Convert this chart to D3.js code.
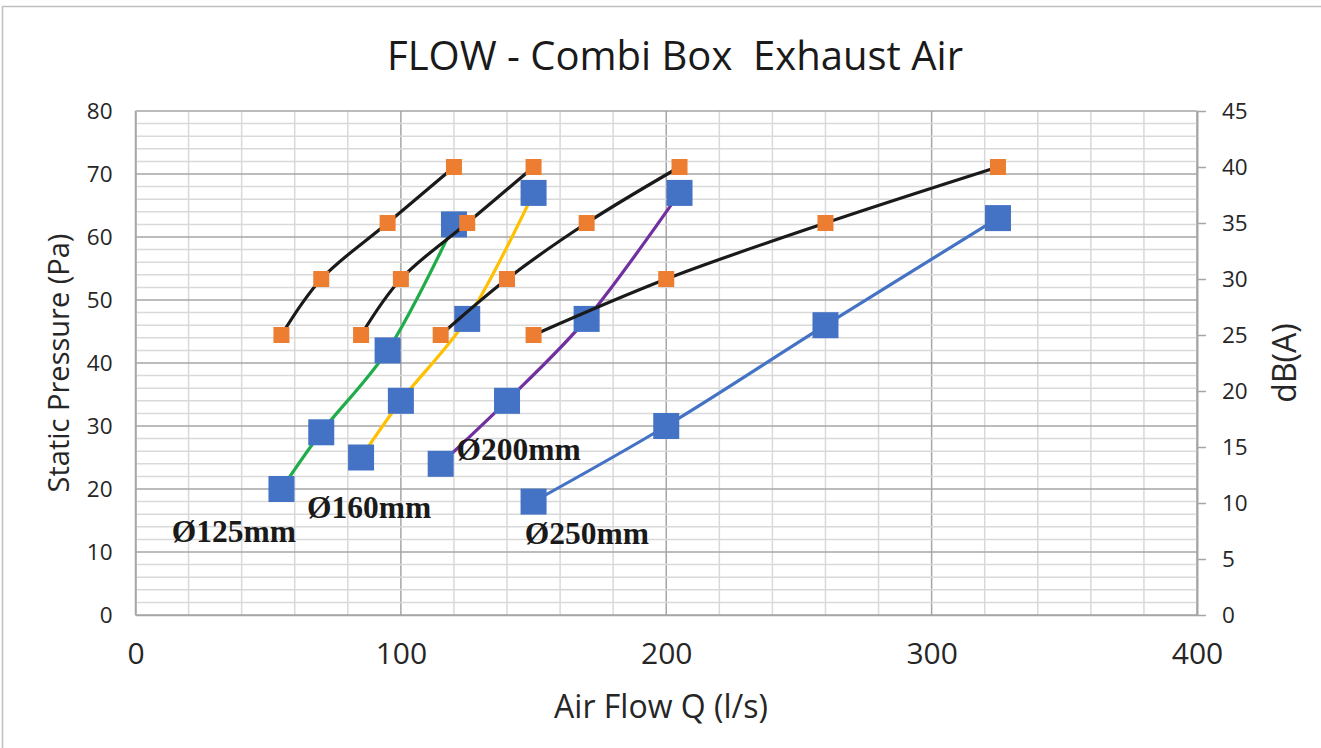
<!DOCTYPE html>
<html>
<head>
<meta charset="utf-8">
<script src="https://cdn.jsdelivr.net/npm/d3@7"></script>
<style>
  html, body { margin: 0; padding: 0; background: #fff; }
  svg { display: block; }
</style>
</head>
<body>
<svg id="chart" width="1321" height="748"></svg>
<script>
// ---------- data ----------
const chartTitle = "FLOW - Combi Box  Exhaust Air";
const xTitle = "Air Flow Q (l/s)";
const yTitle = "Static Pressure (Pa)";
const y2Title = "dB(A)";

const flowTicks = [0, 100, 200, 300, 400];
const pressureTicks = [0, 10, 20, 30, 40, 50, 60, 70, 80];
const dbTicks = [0, 5, 10, 15, 20, 25, 30, 35, 40, 45];

const sizeNames = ["Ø125mm", "Ø160mm", "Ø200mm", "Ø250mm"];
const sizeColors = ["#1fad4b", "#ffc000", "#7030a0", "#4472c4"];

const flow125 = [55, 70, 95, 120];
const flow160 = [85, 100, 125, 150];
const flow200 = [115, 140, 170, 205];
const flow250 = [150, 200, 260, 325];

const pressure125 = [20, 29, 42, 62];
const pressure160 = [25, 34, 47, 67];
const pressure200 = [24, 34, 47, 67];
const pressure250 = [18, 30, 46, 63];

const db125 = [25, 30, 35, 40];
const db160 = [25, 30, 35, 40];
const db200 = [25, 30, 35, 40];
const db250 = [25, 30, 35, 40];

// label anchors in data units (flow, pressure)
const labelFlow = [13.7, 64.6, 121, 146.7];
const labelPressure = [11.6, 15.4, 24.6, 11.3];

// ---------- layout ----------
const svg = d3.select("#chart");
const W = 1321, H = 748;
const plot = { left: 135.5, right: 1197, top: 111, bottom: 615 };

const x = d3.scaleLinear().domain([0, 400]).range([plot.left, plot.right]);
const y = d3.scaleLinear().domain([0, 80]).range([plot.bottom, plot.top]);
const y2 = d3.scaleLinear().domain([0, 45]).range([plot.bottom, plot.top]);

// outer border
svg.append("rect")
  .attr("x", 2.5).attr("y", 6.5)
  .attr("width", W + 10).attr("height", H + 10)
  .attr("fill", "none").attr("stroke", "#bfbfbf").attr("stroke-width", 1.5);

// ---------- gridlines ----------
const grid = svg.append("g");
const minorX = d3.range(0, 401, 20);
const minorY = d3.range(0, 81, 2);

grid.selectAll(".vminor").data(minorX).join("line")
  .attr("x1", d => x(d)).attr("x2", d => x(d))
  .attr("y1", plot.top).attr("y2", plot.bottom)
  .attr("stroke", d => (d % 100 === 0) ? "#a6a6a6" : "#d9d9d9")
  .attr("stroke-width", 1.5);

grid.selectAll(".hminor").data(minorY).join("line")
  .attr("x1", plot.left).attr("x2", plot.right)
  .attr("y1", d => y(d)).attr("y2", d => y(d))
  .attr("stroke", d => (d % 10 === 0) ? "#a6a6a6" : "#d9d9d9")
  .attr("stroke-width", 1.5);

// ---------- axes ----------
const fontSans = "'Open Sans', 'DejaVu Sans', sans-serif";

const xAxis = svg.append("g")
  .attr("transform", `translate(0,${plot.bottom})`)
  .call(d3.axisBottom(x).tickValues(flowTicks).tickSize(0).tickPadding(28));
xAxis.select(".domain").attr("stroke", "#a6a6a6").attr("stroke-width", 1.5);
xAxis.selectAll("text").attr("font-family", fontSans).attr("font-size", 30).attr("fill", "#262626");

const yAxis = svg.append("g")
  .attr("transform", `translate(${plot.left},0)`)
  .call(d3.axisLeft(y).tickValues(pressureTicks).tickSize(0).tickPadding(23));
yAxis.select(".domain").attr("stroke", "#a6a6a6").attr("stroke-width", 1.5);
yAxis.selectAll("text").attr("font-family", fontSans).attr("font-size", 22.5).attr("fill", "#262626");

const y2Axis = svg.append("g")
  .attr("transform", `translate(${plot.right},0)`)
  .call(d3.axisRight(y2).tickValues(dbTicks).tickSize(9).tickSizeOuter(0).tickPadding(16));
y2Axis.select(".domain").attr("stroke", "#a6a6a6").attr("stroke-width", 2);
y2Axis.selectAll(".tick line").attr("stroke", "#a6a6a6").attr("stroke-width", 1.5);
y2Axis.selectAll("text").attr("font-family", fontSans).attr("font-size", 22.5).attr("fill", "#262626");

// ---------- titles ----------
svg.append("text")
  .attr("x", 675).attr("y", 70)
  .attr("text-anchor", "middle")
  .attr("font-family", fontSans).attr("font-size", 40).attr("fill", "#1a1a1a")
  .attr("xml:space", "preserve")
  .text(chartTitle);

svg.append("text")
  .attr("x", 661).attr("y", 718)
  .attr("text-anchor", "middle")
  .attr("font-family", fontSans).attr("font-size", 32).attr("fill", "#262626")
  .text(xTitle);

svg.append("text")
  .attr("transform", `translate(69,363) rotate(-90)`)
  .attr("text-anchor", "middle")
  .attr("font-family", fontSans).attr("font-size", 29).attr("fill", "#262626")
  .text(yTitle);

svg.append("text")
  .attr("transform", `translate(1296,363) rotate(-90)`)
  .attr("text-anchor", "middle")
  .attr("font-family", fontSans).attr("font-size", 32).attr("fill", "#262626")
  .text(y2Title);

// ---------- series ----------
const flows = [flow125, flow160, flow200, flow250];
const pressures = [pressure125, pressure160, pressure200, pressure250];
const dbs = [db125, db160, db200, db250];

const pressureSeries = flows.map((f, i) => f.map((v, j) => ({ q: v, v: pressures[i][j] })));
const dbSeries = flows.map((f, i) => f.map((v, j) => ({ q: v, v: dbs[i][j] })));

const curve = d3.curveCatmullRom.alpha(0.5);
const lineP = d3.line().x(d => x(d.q)).y(d => y(d.v)).curve(curve);
const lineD = d3.line().x(d => x(d.q)).y(d => y2(d.v)).curve(curve);

const gP = svg.append("g");
pressureSeries.forEach((s, i) => {
  gP.append("path").attr("d", lineP(s))
    .attr("fill", "none").attr("stroke", sizeColors[i]).attr("stroke-width", 3.2)
    .attr("stroke-linecap", "round");
});
const bs = 26;
pressureSeries.forEach((s, i) => {
  gP.selectAll(null).data(s).join("rect")
    .attr("x", d => x(d.q) - bs / 2).attr("y", d => y(d.v) - bs / 2)
    .attr("width", bs).attr("height", bs)
    .attr("fill", "#4472c4");
});

const gD = svg.append("g");
dbSeries.forEach((s) => {
  gD.append("path").attr("d", lineD(s))
    .attr("fill", "none").attr("stroke", "#1a1a1a").attr("stroke-width", 3.2)
    .attr("stroke-linecap", "round");
});
const os = 16;
dbSeries.forEach((s) => {
  gD.selectAll(null).data(s).join("rect")
    .attr("x", d => x(d.q) - os / 2).attr("y", d => y2(d.v) - os / 2)
    .attr("width", os).attr("height", os)
    .attr("fill", "#ed7d31");
});

// ---------- size labels ----------
svg.append("g").selectAll("text").data(sizeNames).join("text")
  .attr("x", (d, i) => x(labelFlow[i]))
  .attr("y", (d, i) => y(labelPressure[i]))
  .attr("font-family", "'Liberation Serif', 'Times New Roman', serif")
  .attr("font-weight", "bold").attr("font-size", 31.5).attr("fill", "#1a1a1a")
  .text(d => d);
</script>
</body>
</html>
